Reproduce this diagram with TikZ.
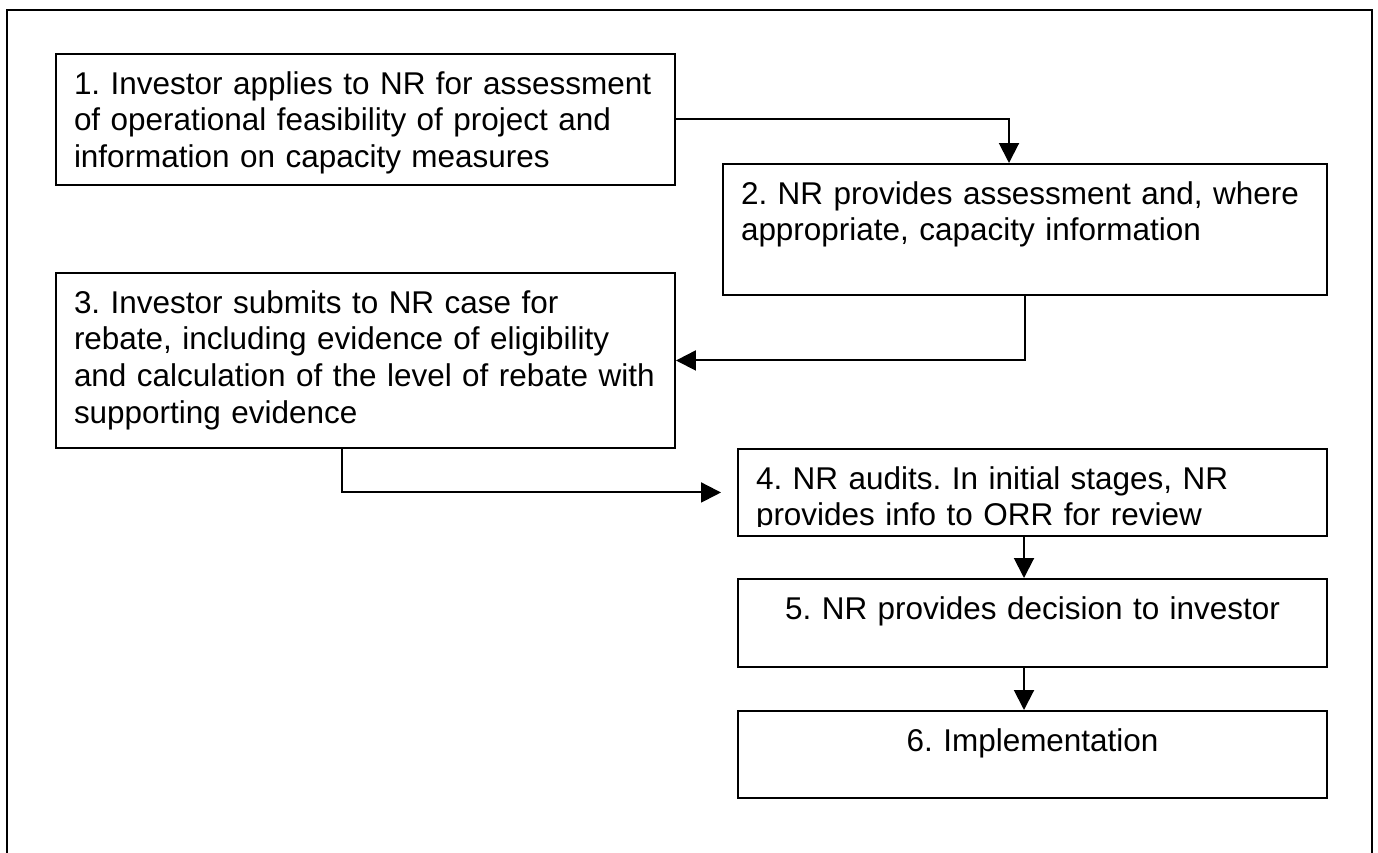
\documentclass[tikz,border=0pt]{standalone}
\usepackage{fontspec}
\setmainfont{Liberation Sans}
\usetikzlibrary{arrows.meta}
\tikzset{
    stepbox/.style={draw, line width=0.75pt, anchor=north west, inner xsep=6.75pt, inner ysep=0pt,
        text height=15pt, align=left, font=\fontsize{11.8pt}{13.8pt}\selectfont\frenchspacing},
    flow/.style={line width=0.75pt, -{Triangle[length=7.5pt,width=7.5pt]}}
}

\begin{document}
\begin{tikzpicture}[x=0.375pt, y=-0.375pt]
            \useasboundingbox (0,0) rectangle (1378,853);
            \draw[line width=0.9pt] (7,853) -- (7,10) -- (1372,10) -- (1372,853);

            \node[stepbox, text width=218.6pt, text depth=34.1pt] (s1) at (55,53)
                {1. Investor applies to NR for assessment\\of operational feasibility of project and\\information on capacity measures};
            \node[stepbox, text width=213pt, text depth=34.1pt] (s2) at (722,163)
                {2. NR provides assessment and, where\\appropriate, capacity information};
            \node[stepbox, text width=218.6pt, text depth=50.6pt] (s3) at (55,272)
                {3. Investor submits to NR case for\\rebate, including evidence of eligibility\\and calculation of the level of rebate with\\supporting evidence};
            \node[stepbox, text width=207.4pt, text depth=17.6pt] (s4) at (737,448) {};
            \begin{scope}
                \clip (s4.north west) rectangle ([yshift=3.75pt]s4.south east);
                \node[stepbox, draw=none, text width=207.4pt, text depth=17.6pt] (t4) at (s4.north west)
                    {4. NR audits. In initial stages, NR\\provides info to ORR for review};
            \end{scope}
            \node[stepbox, align=center, text width=207.4pt, text depth=18pt] (s5) at (737,578)
                {5. NR provides decision to investor};
            \node[stepbox, align=center, text width=207.4pt, text depth=17.6pt] (s6) at (737,710)
                {6. Implementation};

            \draw[flow] (s1.east) -| ([xshift=-6pt]s2.north);
            \draw[flow] (s2.south) |- (s3.east);
            \draw[flow, shorten >=6pt] ([xshift=-8.8pt]s3.south) |- (s4.west);
            \draw[flow] ([xshift=-3.2pt]s4.south) -- ([xshift=-3.2pt]s5.north);
            \draw[flow] ([xshift=-3.2pt]s5.south) -- ([xshift=-3.2pt]s6.north);

        \end{tikzpicture}
\end{document}
